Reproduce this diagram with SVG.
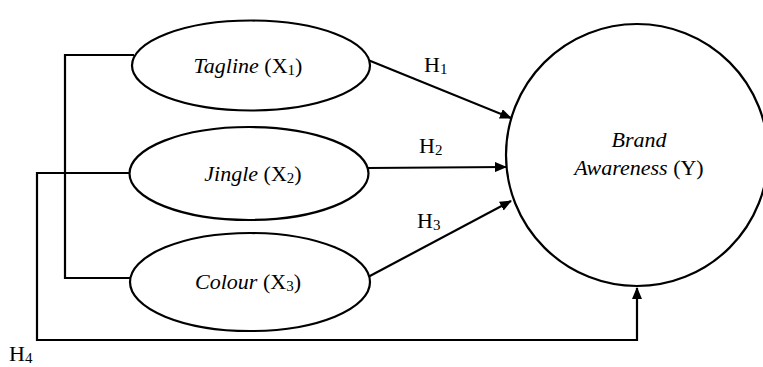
<svg xmlns="http://www.w3.org/2000/svg" width="763" height="367" viewBox="0 0 763 367">
  <style>
    .shape { fill: #ffffff; stroke: #000000; stroke-width: 2.2; }
    .line { fill: none; stroke: #000000; stroke-width: 2.2; }
    text { font-family: "Liberation Serif", "DejaVu Serif", serif; font-size: 22px; fill: #000000; }
    .it { font-style: italic; }
    .sub { font-size: 15px; }
  </style>
  <defs>
    <marker id="arrow" viewBox="0 0 12 10" refX="11" refY="5" markerWidth="12" markerHeight="10" markerUnits="userSpaceOnUse" orient="auto">
      <path d="M0,0 L12,5 L0,10 Z" fill="#000000"/>
    </marker>
  </defs>
  <rect width="763" height="367" fill="#ffffff"/>

  <!-- connectors -->
  <g id="connectors">
    <!-- bracket linking Tagline and Colour -->
    <polyline class="line" points="134,55 65,55 65,278 133,278"/>
    <!-- H4: Jingle around the bottom to Brand Awareness -->
    <polyline class="line" points="130,173 37,173 37,340 637,340 637,288" marker-end="url(#arrow)"/>
    <line class="line" x1="368" y1="60" x2="511" y2="118" marker-end="url(#arrow)"/>
    <line class="line" x1="368" y1="168" x2="506" y2="167" marker-end="url(#arrow)"/>
    <line class="line" x1="368" y1="277" x2="511" y2="201" marker-end="url(#arrow)"/>
    <text x="424" y="72">H<tspan class="sub" dy="2">1</tspan></text>
    <text x="419" y="153">H<tspan class="sub" dy="2">2</tspan></text>
    <text x="417" y="228">H<tspan class="sub" dy="2">3</tspan></text>
    <text x="9" y="361">H<tspan class="sub" dy="2">4</tspan></text>
  </g>

  <g id="tagline">
    <ellipse class="shape" cx="251" cy="65.5" rx="119" ry="45"/>
    <text x="248" y="73" text-anchor="middle"><tspan class="it">Tagline</tspan> (X<tspan class="sub" dy="2">1</tspan><tspan dy="-2">)</tspan></text>
  </g>

  <g id="jingle">
    <ellipse class="shape" cx="249" cy="173.5" rx="119.5" ry="46.5"/>
    <text x="253" y="181" text-anchor="middle"><tspan class="it">Jingle</tspan> (X<tspan class="sub" dy="2">2</tspan><tspan dy="-2">)</tspan></text>
  </g>

  <g id="colour">
    <ellipse class="shape" cx="250" cy="282" rx="120" ry="49"/>
    <text x="248" y="289" text-anchor="middle"><tspan class="it">Colour</tspan> (X<tspan class="sub" dy="2">3</tspan><tspan dy="-2">)</tspan></text>
  </g>

  <g id="brand-awareness">
    <circle class="shape" cx="637" cy="155" r="131"/>
    <text x="639" y="147" text-anchor="middle" class="it">Brand</text>
    <text x="639" y="175" text-anchor="middle"><tspan class="it">Awareness</tspan> (Y)</text>
  </g>
</svg>
